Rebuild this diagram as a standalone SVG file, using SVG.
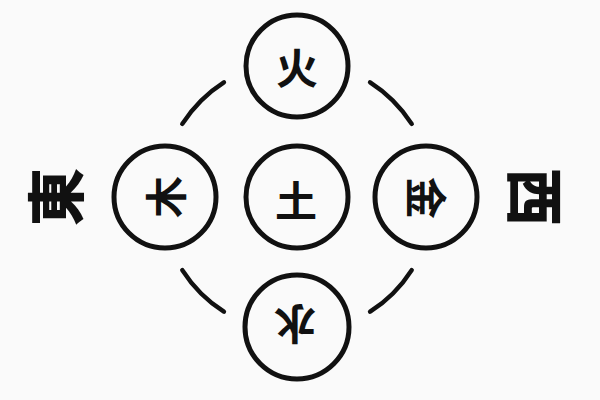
<svg xmlns="http://www.w3.org/2000/svg" width="600" height="400" viewBox="0 0 600 400">
<style>
.node circle{fill:none;stroke:#111;stroke-width:5}
.ch{font-family:"Noto Sans CJK TC","Noto Sans CJK SC",sans-serif;font-size:42px;font-weight:700;fill:#111;text-anchor:middle;dominant-baseline:central}
.dir{font-family:"Noto Sans CJK TC","Noto Sans CJK SC",sans-serif;font-size:58px;font-weight:900;fill:#111;text-anchor:middle;dominant-baseline:central}
.arc{fill:none;stroke:#111;stroke-width:4.5;stroke-linecap:round}
</style>
<rect width="600" height="400" fill="#fafafa"/>
<g id="connectors">
<path class="arc" d="M182.3,123.9 A137,137 0 0 1 223.9,82.3"/>
<path class="arc" d="M370.1,82.3 A137,137 0 0 1 411.7,123.9"/>
<path class="arc" d="M411.7,270.1 A137,137 0 0 1 370.1,311.7"/>
<path class="arc" d="M223.9,311.7 A137,137 0 0 1 182.3,270.1"/>
</g>
<g id="fire" class="node"><circle cx="297" cy="66" r="51"/><text class="ch" x="297" y="65">火</text></g>
<g id="earth" class="node"><circle cx="297" cy="197" r="51"/><text class="ch" x="296" y="198">土</text></g>
<g id="wood" class="node"><circle cx="165" cy="197" r="51"/><text class="ch" transform="translate(163,197) rotate(-90)" x="0" y="0">木</text></g>
<g id="metal" class="node"><circle cx="426" cy="197" r="51"/><text class="ch" transform="translate(428,198) rotate(90)" x="0" y="0">金</text></g>
<g id="water" class="node"><circle cx="297" cy="327" r="52"/><text class="ch" transform="translate(295,326) rotate(180)" x="0" y="0">水</text></g>
<g id="east"><text class="dir" transform="translate(53,197) rotate(-90)" x="0" y="0">東</text></g>
<g id="west"><text class="dir" transform="translate(538,197) rotate(90)" x="0" y="0">西</text></g>
</svg>
